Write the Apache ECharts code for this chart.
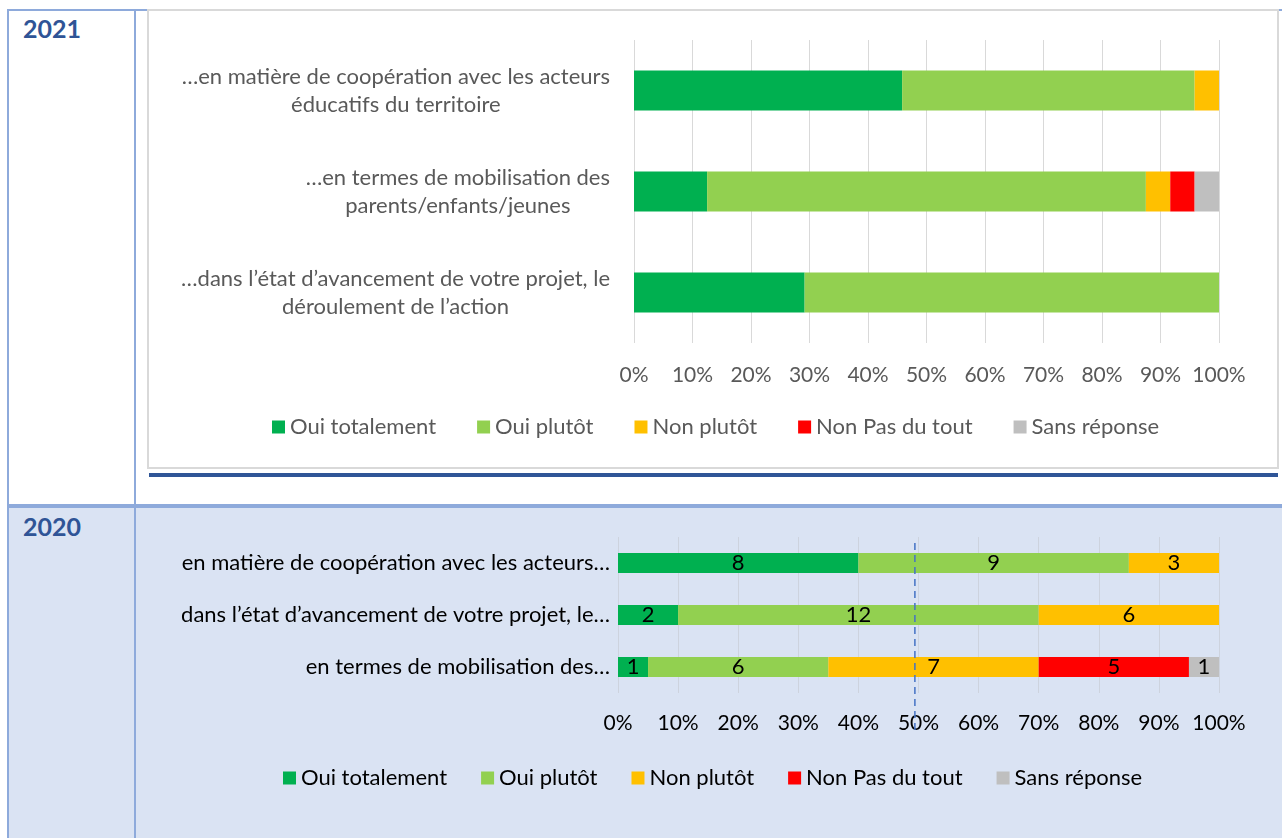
<!DOCTYPE html>
<html>
<head>
<meta charset="utf-8">
<script src="https://cdn.jsdelivr.net/npm/echarts@6/dist/echarts.min.js"></script>
<style>
  body { margin: 0; width: 1282px; height: 838px; background: #fff; overflow: hidden; font-family: Lato, sans-serif; }
  .abs { position: absolute; }
  .year { position: absolute; left: 23px; font-weight: 700; font-size: 25px; color: #2F5496; }
</style>
</head>
<body>
<!-- table lines -->
<div class="abs" style="left:8px;top:9px;width:1274px;height:2px;background:#8EAADB"></div>
<div class="abs" style="left:8px;top:504px;width:1274px;height:4px;background:#8EAADB"></div>
<div class="abs" style="left:9px;top:508px;width:1273px;height:330px;background:#DAE3F3"></div>
<div class="abs" style="left:7px;top:9px;width:2px;height:829px;background:#8EAADB"></div>
<div class="abs" style="left:134px;top:9px;width:2px;height:829px;background:#8EAADB"></div>
<div class="year" style="top:13px">2021</div>
<div class="year" style="top:511px">2020</div>

<!-- 2021 chart box -->
<div class="abs" style="left:147px;top:9px;width:1128px;height:456px;border:2px solid #D9D9D9;background:#fff"></div>
<div class="abs" style="left:149px;top:473px;width:1129px;height:4px;background:#2F5597"></div>
<div id="chart-2021" class="abs" style="left:148px;top:10px;width:1128px;height:456px"></div>
<div id="chart-2020" class="abs" style="left:136px;top:508px;width:1146px;height:330px"></div>

<script>
const responses = ['Oui totalement', 'Oui plutôt', 'Non plutôt', 'Non Pas du tout', 'Sans réponse'];
const colors = ['#00B050', '#92D050', '#FFC000', '#FF0000', '#BFBFBF'];

// 2021 (top to bottom)
const categories2021 = [
  '…en matière de coopération avec les acteurs\néducatifs du territoire',
  '…en termes de mobilisation des\nparents/enfants/jeunes',
  '…dans l’état d’avancement de votre projet, le\ndéroulement de l’action'
];
const ouiTotalement2021 = [11, 3, 7];
const ouiPlutot2021 = [12, 18, 17];
const nonPlutot2021 = [1, 1, 0];
const nonPasDuTout2021 = [0, 1, 0];
const sansReponse2021 = [0, 1, 0];

// 2020 (top to bottom)
const categories2020 = [
  'en matière de coopération avec les acteurs…',
  'dans l’état d’avancement de votre projet, le…',
  'en termes de mobilisation des…'
];
const ouiTotalement2020 = [8, 2, 1];
const ouiPlutot2020 = [9, 12, 6];
const nonPlutot2020 = [3, 6, 7];
const nonPasDuTout2020 = [0, 0, 5];
const sansReponse2020 = [0, 0, 1];

const percentTicks = [0, 10, 20, 30, 40, 50, 60, 70, 80, 90, 100];

function toPercent(groups) {
  let totals = groups[0].map((_, i) => groups.reduce((s, g) => s + g[i], 0));
  return groups.map(g => g.map((v, i) => v / totals[i] * 100));
}

function buildSeries(groups, barWidth, showLabels) {
  let pct = toPercent(groups);
  return responses.map((name, k) => ({
    name: name,
    type: 'bar',
    stack: 'total',
    barWidth: barWidth,
    itemStyle: { color: colors[k] },
    label: {
      show: showLabels,
      color: '#000',
      fontSize: 22,
      fontFamily: 'Lato',
      formatter: p => groups[k][p.dataIndex] ? String(groups[k][p.dataIndex]) : ''
    },
    data: pct[k]
  }));
}

function legendOf(top, left, gap, color) {
  return {
    top: top,
    left: left,
    itemWidth: 13,
    itemHeight: 13,
    itemGap: gap,
    icon: 'rect',
    textStyle: { color: color, fontSize: 22, fontFamily: 'Lato' },
    data: responses
  };
}

function xAxisOf(splitColor, labelColor, margin) {
  return {
    type: 'value',
    min: 0,
    max: 100,
    interval: 10,
    axisLine: { show: false },
    axisTick: { show: false },
    splitLine: { lineStyle: { color: splitColor, width: 1 } },
    axisLabel: {
      color: labelColor,
      fontSize: 21,
      fontFamily: 'Lato',
      margin: margin,
      formatter: v => percentTicks.includes(v) ? v + '%' : ''
    }
  };
}

let chart2021 = echarts.init(document.getElementById('chart-2021'));
chart2021.setOption({
  animation: false,
  grid: { left: 486, right: 57, top: 30, height: 303 },
  legend: legendOf(401, 119, 41, '#595959'),
  xAxis: xAxisOf('#D9D9D9', '#595959', 22),
  yAxis: {
    type: 'category',
    inverse: true,
    data: categories2021,
    axisLine: { show: false },
    axisTick: { show: false },
    axisLabel: {
      margin: 24,
      formatter: v => v.split('\n').map(l => '{c|' + l + '}').join('\n'),
      rich: { c: { align: 'center', color: '#595959', fontSize: 22, fontFamily: 'Lato', lineHeight: 28 } }
    }
  },
  series: buildSeries([ouiTotalement2021, ouiPlutot2021, nonPlutot2021, nonPasDuTout2021, sansReponse2021], 40, false)
});

let chart2020 = echarts.init(document.getElementById('chart-2020'));
chart2020.setOption({
  animation: false,
  grid: { left: 482, right: 63, top: 29, height: 156 },
  legend: legendOf(254, 142, 34, '#000'),
  xAxis: xAxisOf('#CDD3DE', '#000', 20),
  yAxis: {
    type: 'category',
    inverse: true,
    data: categories2020,
    axisLine: { show: false },
    axisTick: { show: false },
    axisLabel: { margin: 8, color: '#000', fontSize: 22, fontFamily: 'Lato' }
  },
  series: buildSeries([ouiTotalement2020, ouiPlutot2020, nonPlutot2020, nonPasDuTout2020, sansReponse2020], 20, true)
});

// dashed marker drawn just left of the 50% line
let markX = chart2020.convertToPixel({ xAxisIndex: 0 }, 49.4);
chart2020.setOption({
  graphic: [{
    type: 'line',
    shape: { x1: markX, y1: 35, x2: markX, y2: 227 },
    style: { stroke: '#4472C4', lineWidth: 1.5, lineDash: [7, 5] },
    z: 10
  }]
});
</script>
</body>
</html>
